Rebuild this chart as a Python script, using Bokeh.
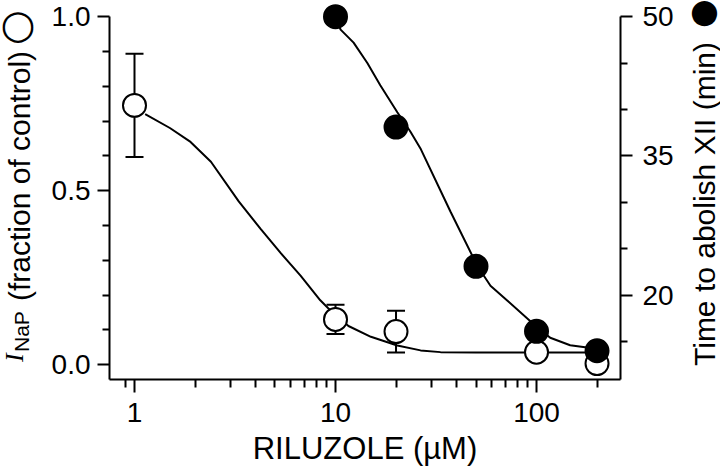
import math
from bokeh.plotting import figure
from bokeh.layouts import row
from bokeh.models import (Range1d, LinearAxis, FixedTicker, Whisker, TeeHead,
                          ColumnDataSource, Div)
from bokeh.embed import file_html
from bokeh.resources import INLINE

# ---------------- data ----------------
conc_inap = [1, 10, 20, 100, 200]
inap = [0.745, 0.13, 0.095, 0.036, 0.003]
inap_err = [0.148, 0.042, 0.06, 0.0, 0.0]

conc_time = [10, 20, 50, 100, 200]
time_min = [50.0, 38.1, 23.1, 16.1, 14.0]

fit_inap_x = [1.13, 1.5, 1.9, 2.4, 3.3, 4.24, 5.33, 6.7, 8.4, 9.2, 11.6, 15.0,
              20.3, 26.5, 33.3, 50, 100, 200]
fit_inap_y = [0.72, 0.68, 0.64, 0.583, 0.469, 0.39, 0.321, 0.256, 0.185, 0.162,
              0.111, 0.08, 0.055, 0.041, 0.036, 0.035, 0.035, 0.035]

fit_time_x = [10.0, 10.6, 12.3, 14.4, 16.7, 20.3, 23.6, 26.6, 37.3, 50.9, 59,
              71.7, 100, 117, 147, 186, 200]
fit_time_y = [50.0, 48.6, 47.2, 45.0, 42.6, 39.7, 37.6, 35.7, 29.0, 23.1, 21.0,
              19.4, 16.6, 15.4, 14.6, 14.3, 14.2]

x_ticks = [1, 10, 100]
x_tick_labels = ["1", "10", "100"]
x_minor = [0.9, 2, 3, 4, 5, 6, 7, 8, 9, 20, 30, 40, 50, 60, 70, 80, 90, 200]
left_ticks = [0.0, 0.5, 1.0]
left_tick_labels = ["0.0", "0.5", "1.0"]
left_minor = [0.1, 0.2, 0.3, 0.4, 0.6, 0.7, 0.8, 0.9]
right_ticks = [20, 35, 50]
right_tick_labels = ["20", "35", "50"]
right_minor = [15, 25, 30, 40, 45]

x_title = "RILUZOLE (µM)"
left_title_main = "I"
left_title_sub = "NaP"
left_title_rest = "(fraction of control)"
right_title = "Time to abolish XII (min)"
open_sym = "○"
filled_sym = "●"

# ---------------- layout ----------------
W, H = 720, 468
LDIV, RDIV = 40, 36                    # side columns holding rotated titles
FW = W - LDIV - RDIV                   # figure width
FRAME_L, FRAME_R, FRAME_T, FRAME_B = 109, 620, 0, 383   # page pixels
FONT = "Liberation Sans"

X0, X1 = 0.751, 261.7          # x range (log)
L0, L1 = -0.04265, 1.04635     # left y range
R0, R1 = 10.906, 51.738        # right y range

p = figure(width=FW, height=H, x_axis_type="log", output_backend="svg",
           toolbar_location=None, margin=0,
           min_border_left=FRAME_L - LDIV,
           min_border_right=(LDIV + FW) - FRAME_R,
           min_border_top=FRAME_T, min_border_bottom=H - FRAME_B,
           x_range=Range1d(X0, X1), y_range=Range1d(L0, L1))
p.extra_y_ranges = {"right": Range1d(R0, R1)}
p.outline_line_color = None
p.xgrid.visible = False
p.ygrid.visible = False
p.background_fill_color = "white"
p.border_fill_color = "white"


def style_axis(ax):
    ax.axis_line_width = 2
    ax.axis_line_color = "black"
    ax.major_tick_line_width = 2
    ax.minor_tick_line_width = 2
    ax.major_tick_in = 0
    ax.minor_tick_in = 0
    ax.major_tick_out = 12
    ax.minor_tick_out = 7
    ax.major_label_text_font = FONT
    ax.major_label_text_font_size = "28px"
    ax.major_label_text_color = "black"
    ax.axis_label_text_font = FONT
    ax.axis_label_text_font_style = "normal"
    ax.axis_label_text_font_size = "31px"
    ax.axis_label_text_color = "black"


xa = p.xaxis[0]
style_axis(xa)
xa.ticker = FixedTicker(ticks=x_ticks, minor_ticks=x_minor)
xa.major_label_overrides = dict(zip(x_ticks, x_tick_labels))
xa.major_tick_out = 13
xa.minor_tick_out = 8
xa.major_label_standoff = 10
xa.axis_label = x_title
xa.axis_label_standoff = 6

ya = p.yaxis[0]
style_axis(ya)
ya.ticker = FixedTicker(ticks=left_ticks, minor_ticks=left_minor)
ya.major_label_overrides = dict(zip(left_ticks, left_tick_labels))
ya.major_label_standoff = 7
ya.bounds = (L0, 1.0)

ra = LinearAxis(y_range_name="right")
style_axis(ra)
ra.ticker = FixedTicker(ticks=right_ticks, minor_ticks=right_minor)
ra.major_label_overrides = dict(zip(right_ticks, right_tick_labels))
ra.major_label_standoff = 10
ra.bounds = (R0, 50)
p.add_layout(ra, "right")

# ---------------- glyphs ----------------
p.line(fit_inap_x, fit_inap_y, line_color="black", line_width=2)
p.line(fit_time_x, fit_time_y, line_color="black", line_width=2,
       y_range_name="right")

err_src = ColumnDataSource(dict(
    x=conc_inap,
    upper=[v + e for v, e in zip(inap, inap_err)],
    lower=[v - e for v, e in zip(inap, inap_err)],
))
wh = Whisker(base="x", upper="upper", lower="lower", source=err_src,
             line_color="black", line_width=2, level="underlay",
             upper_head=TeeHead(size=18, line_width=2, line_color="black"),
             lower_head=TeeHead(size=18, line_width=2, line_color="black"))
p.add_layout(wh)

p.scatter(conc_inap, inap, marker="circle", size=23, fill_color="white",
          line_color="black", line_width=2)
p.scatter(conc_time, time_min, marker="circle", size=23, fill_color="black",
          line_color="black", line_width=2, y_range_name="right")


# ---------------- rotated axis titles (HTML text in side columns) ----------------
LH = 0.65   # line-height (em) of each rotated piece


def piece(bx, sy, text, size, font=FONT, style="normal"):
    """Text reading bottom-to-top, baseline at x=bx, starting at y=sy."""
    left = bx - 0.67 * size
    return (f'<div style="position:absolute;left:{left:.1f}px;top:{sy}px;'
            f'transform-origin:0 0;transform:rotate(-90deg);white-space:nowrap;'
            f"font-family:'{font}';font-size:{size}px;line-height:{LH};"
            f'font-style:{style};color:#000;">{text}</div>')


def upright(cx, top, width, text, size, font="DejaVu Sans"):
    """Upright symbol centred horizontally on cx, text box starting at top."""
    return (f'<div style="position:absolute;left:{cx - width / 2:.1f}px;'
            f'top:{top}px;width:{width}px;text-align:center;white-space:nowrap;'
            f"font-family:'{font}';font-size:{size}px;line-height:1.15;"
            f'color:#000;">{text}</div>')


def column_div(width, pieces):
    html = (f'<div style="position:relative;width:{width}px;height:{H}px;">'
            + "".join(pieces) + '</div>')
    return Div(text=html, width=width, height=H, margin=0)


left_div = column_div(LDIV, [
    piece(24, 362, left_title_main, 26, font="Liberation Serif", style="italic"),
    piece(29, 352, left_title_sub, 21),
    piece(30, 301, left_title_rest, 30),
    upright(17.5, 1, 34, open_sym, 40),
])

rx = W - RDIV
right_div = column_div(RDIV, [
    piece(715 - rx, 366, right_title, 30),
    piece(713 - rx, 28, filled_sym, 33, font="DejaVu Sans"),
])

page = row(left_div, p, right_div, spacing=0)

open("out.html", "w").write(file_html(page, INLINE))
